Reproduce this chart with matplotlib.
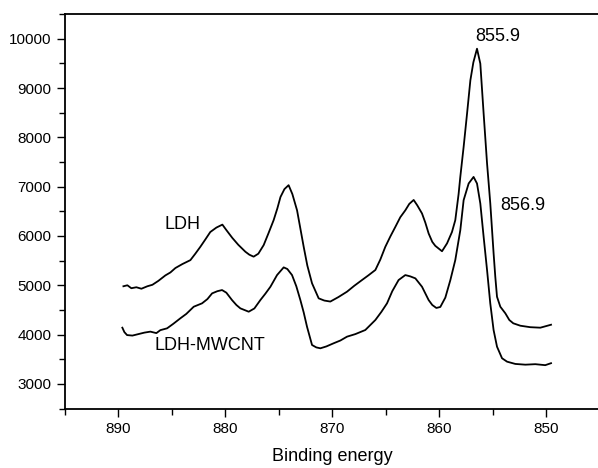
import matplotlib
matplotlib.use("Agg")
import matplotlib.pyplot as plt
from matplotlib.ticker import MultipleLocator

plt.rcParams['font.family'] = ['Liberation Sans', 'DejaVu Sans']

# binding energy (eV) and counts
ldh_x = [889.50, 889.13, 888.76, 888.29, 887.82, 887.26, 886.79, 886.23, 885.58, 885.11,
         884.64, 883.99, 883.24, 882.78, 882.31, 881.84, 881.38, 880.81, 880.25, 879.88,
         879.32, 878.76, 878.10, 877.73, 877.33, 876.89, 876.39, 875.95, 875.46, 875.11,
         874.82, 874.45, 874.06, 873.71, 873.27, 872.96, 872.65, 872.31, 871.87, 871.25,
         870.72, 870.16, 869.41, 868.60, 867.92, 867.20, 866.61, 865.95, 865.49, 865.02,
         864.55, 864.08, 863.62, 863.15, 862.78, 862.37, 862.03, 861.59, 861.28, 860.97,
         860.63, 860.35, 859.72, 859.25, 858.79, 858.48, 858.17, 858.01, 857.70, 857.38,
         857.07, 856.79, 856.45, 856.14, 855.83, 855.51, 855.36, 855.21, 854.90, 854.74,
         854.58, 854.27, 853.80, 853.43, 853.06, 852.40, 851.47, 850.53, 849.53]
ldh_y = [4980, 5000, 4940, 4960, 4930, 4980, 5010, 5090, 5200, 5260,
         5350, 5430, 5510, 5640, 5780, 5930, 6080, 6170, 6230, 6120,
         5960, 5820, 5680, 5620, 5580, 5640, 5815, 6050, 6320, 6560,
         6790, 6950, 7030, 6850, 6520, 6150, 5780, 5400, 5040, 4735,
         4690, 4670, 4760, 4870, 4990, 5106, 5200, 5310, 5520, 5780,
         5990, 6185, 6380, 6520, 6650, 6730, 6620, 6456, 6270, 6050,
         5880, 5800, 5690, 5850, 6080, 6320, 6850, 7200, 7805, 8481,
         9156, 9520, 9797, 9494, 8481, 7469, 7070, 6665, 5652, 5172,
         4767, 4565, 4431, 4296, 4229, 4180, 4150, 4140, 4200]

mw_x = [889.60, 889.41, 889.16, 888.66, 888.10, 887.54, 886.98, 886.42, 886.05, 885.42,
        884.83, 884.18, 883.62, 882.93, 882.15, 881.65, 881.21, 880.72, 880.28, 879.88,
        879.35, 878.94, 878.57, 877.79, 877.26, 876.70, 876.23, 875.76, 875.14, 874.52,
        874.18, 873.74, 873.34, 872.96, 872.65, 872.34, 871.87, 871.47, 871.09, 870.53,
        869.85, 869.22, 868.60, 867.82, 866.89, 865.95, 865.39, 864.86, 864.37, 863.78,
        863.15, 862.68, 862.21, 861.59, 860.97, 860.63, 860.25, 859.88, 859.41, 858.94,
        858.48, 858.01, 857.70, 857.23, 856.77, 856.45, 856.14, 855.83, 855.51, 855.21,
        854.90, 854.58, 854.11, 853.64, 852.87, 851.93, 851.00, 850.07, 849.53]
mw_y = [4140, 4050, 3990, 3980, 4010, 4040, 4060, 4030, 4090, 4127,
        4220, 4330, 4420, 4565, 4634, 4720, 4836, 4880, 4903, 4850,
        4700, 4600, 4532, 4464, 4530, 4700, 4830, 4970, 5207, 5363,
        5330, 5207, 4980, 4700, 4450, 4160, 3789, 3740, 3722, 3760,
        3824, 3880, 3958, 4010, 4093, 4296, 4460, 4634, 4880, 5106,
        5207, 5180, 5140, 4970, 4700, 4600, 4540, 4560, 4750, 5106,
        5511, 6118, 6726, 7064, 7197, 7064, 6659, 5982, 5308, 4634,
        4093, 3755, 3520, 3451, 3405, 3390, 3400, 3380, 3420]

fig = plt.figure(figsize=(5.98, 4.68), dpi=100)
ax = fig.add_axes([0.108, 0.127, 0.8945, 0.843])

ax.plot(ldh_x, ldh_y, color='black', lw=1.3)
ax.plot(mw_x, mw_y, color='black', lw=1.3)

ax.set_xlim(895, 845)
ax.set_ylim(2500, 10500)
ax.xaxis.set_major_locator(MultipleLocator(10))
ax.xaxis.set_minor_locator(MultipleLocator(5))
ax.yaxis.set_major_locator(MultipleLocator(1000))
ax.yaxis.set_minor_locator(MultipleLocator(500))
ax.tick_params(which='major', direction='out', length=6, width=1, labelsize=11)
ax.tick_params(which='minor', direction='out', length=4, width=1)
ax.tick_params(top=False, right=False)
ax.spines['right'].set_visible(False)
for s in ['left', 'bottom', 'top']:
    ax.spines[s].set_linewidth(1.3)

ax.set_xlabel('Binding energy', fontsize=13, labelpad=9)

ax.text(884.0, 6240, 'LDH', fontsize=13, ha='center', va='center')
ax.text(881.4, 3780, 'LDH-MWCNT', fontsize=13, ha='center', va='center')
ax.text(854.55, 10047, '855.9', fontsize=13, ha='center', va='center')
ax.text(852.2, 6614, '856.9', fontsize=13, ha='center', va='center')

fig.savefig('out.png', dpi=100)
